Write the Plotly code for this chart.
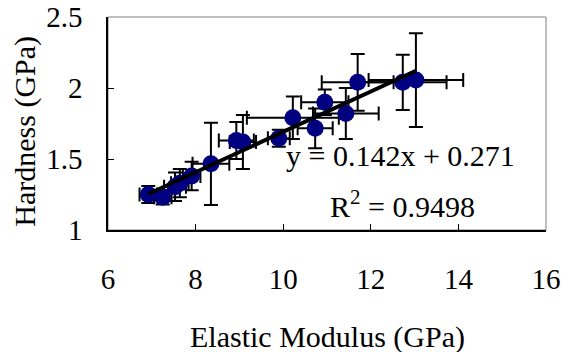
import numpy as np
import plotly.graph_objects as go

# Data
modulus = [6.92, 7.25, 7.53, 7.64, 7.91, 8.35, 8.93, 9.08, 9.90, 10.22, 10.73, 10.95, 11.43, 11.70, 12.73, 13.03]
hardness = [1.25, 1.23, 1.305, 1.33, 1.38, 1.466, 1.63, 1.62, 1.646, 1.79, 1.716, 1.90, 1.82, 2.04, 2.04, 2.056]
modulus_err = [0.2, 0.2, 0.25, 0.2, 0.2, 0.42, 0.4, 0.3, 0.25, 1.05, 0.4, 0.54, 0.75, 0.82, 1.0, 1.08]
hardness_err = [0.06, 0.05, 0.1, 0.1, 0.1, 0.29, 0.13, 0.19, 0.06, 0.15, 0.14, 0.09, 0.18, 0.2, 0.195, 0.33]

slope = 0.142
intercept = 0.271
r_squared = 0.9498

x_ticks = [6, 8, 10, 12, 14, 16]
y_ticks = [1, 1.5, 2, 2.5]
y_tick_text = ["1", "1.5", "2", "2.5"]

FONT = "Liberation Serif"
TICKFONT = dict(family=FONT, size=29, color="black")
TITLEFONT = dict(family=FONT, size=30, color="black")

fig = go.Figure()

fig.add_trace(go.Scatter(
    x=modulus, y=hardness, mode="markers",
    marker=dict(color="#000080", size=17, line=dict(width=0)),
    error_x=dict(type="data", array=modulus_err, color="black", thickness=2, width=7),
    error_y=dict(type="data", array=hardness_err, color="black", thickness=2, width=7),
    showlegend=False,
))

xs = np.array([min(modulus), max(modulus)])
fig.add_trace(go.Scatter(
    x=xs, y=slope * xs + intercept, mode="lines",
    line=dict(color="black", width=4), showlegend=False,
))

fig.add_annotation(
    xref="paper", yref="paper", x=0.667, y=0.352, xanchor="center", yanchor="middle",
    text=f"y = {slope}x + {intercept}", showarrow=False, font=TITLEFONT,
)
fig.add_annotation(
    xref="paper", yref="paper", x=0.672, y=0.122, xanchor="center", yanchor="middle",
    text=f"R<sup>2</sup> = {r_squared}", showarrow=False, font=TITLEFONT,
)
# axis titles
fig.add_annotation(
    xref="paper", yref="paper", x=-0.19, y=0.465, xanchor="center", yanchor="middle",
    text="Hardness (GPa)", textangle=-90, showarrow=False, font=TITLEFONT,
)
fig.add_annotation(
    xref="paper", yref="paper", x=0.5, y=-0.50, xanchor="center", yanchor="middle",
    text="Elastic Modulus (GPa)", showarrow=False, font=TITLEFONT,
)

# gray frame (top/right)
fig.add_shape(type="rect", xref="paper", yref="paper", x0=0, y0=0, x1=1, y1=1,
              line=dict(color="#808080", width=1), layer="below")

fig.update_layout(
    width=571, height=352,
    margin=dict(l=108, r=25, t=17, b=122),
    paper_bgcolor="white", plot_bgcolor="white",
    font=dict(family=FONT, size=29, color="black"),
    xaxis=dict(
        range=[6, 16], tickvals=x_ticks, ticktext=[str(v) for v in x_ticks],
        tickfont=TICKFONT,
        showgrid=False, zeroline=False, showline=True, linecolor="black", linewidth=1.5,
        ticks="inside", ticklen=6, tickcolor="black", tickwidth=1,
        ticklabelstandoff=22, automargin=False,
    ),
    yaxis=dict(
        range=[1, 2.5], tickvals=y_ticks, ticktext=y_tick_text,
        tickfont=TICKFONT,
        showgrid=False, zeroline=False, showline=True, linecolor="black", linewidth=1.5,
        ticks="inside", ticklen=6, tickcolor="black", tickwidth=1,
        ticklabelstandoff=18, automargin=False,
    ),
)

fig.write_html("out.html", config={"displayModeBar": False},
               post_script="document.body.style.margin='0px';")
